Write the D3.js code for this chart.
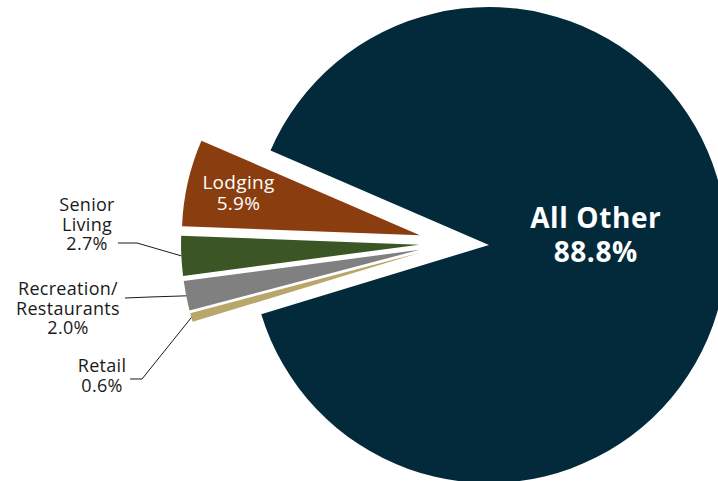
<!DOCTYPE html>
<html>
<head>
<meta charset="utf-8">
<script src="https://cdn.jsdelivr.net/npm/d3@7"></script>
<style>
  body { margin: 0; background: #fff; }
  text { font-family: "Open Sans", sans-serif; }
</style>
</head>
<body>
<svg id="chart" width="718" height="481"></svg>
<script>
// data, in clockwise order starting at the top edge of "All Other"
const categories = ['All Other', 'Retail', 'Recreation/Restaurants', 'Senior Living', 'Lodging'];
const values = [88.8, 0.6, 2.0, 2.7, 5.9];
const labelLines = [
  ['All Other', '88.8%'],
  ['Retail', '0.6%'],
  ['Recreation/', 'Restaurants', '2.0%'],
  ['Senior', 'Living', '2.7%'],
  ['Lodging', '5.9%']
];
const colors = ['#022a3a', '#b9a66b', '#808080', '#3b5624', '#8a3d0e'];

var w = 718, h = 481;
var cx = 454, cy = 243;
var radius = 238;
var explode = 35;
var startAngle = 293.4 * Math.PI / 180;

var svg = d3.select('#chart');

var pie = d3.pie()
  .sort(null)
  .value(function(d) { return d; })
  .startAngle(startAngle)
  .endAngle(startAngle + 2 * Math.PI);

var arc = d3.arc().innerRadius(0).outerRadius(radius);

var arcs = pie(values);

function offset(d, dist) {
  var mid = (d.startAngle + d.endAngle) / 2;
  return [Math.sin(mid) * dist, -Math.cos(mid) * dist];
}

var chart = svg.append('g').attr('transform', 'translate(' + cx + ',' + cy + ')');

var slices = chart.selectAll('g.slice')
  .data(arcs)
  .enter()
  .append('g')
  .attr('class', 'slice')
  .attr('transform', function(d) {
    var o = offset(d, explode);
    return 'translate(' + o[0] + ',' + o[1] + ')';
  });

slices.append('path')
  .attr('d', arc)
  .attr('fill', function(d, i) { return colors[i]; });

// labels inside slices
var inside = {
  0: { r: 107, dy: [-23, 11], size: 28, weight: 700, spacing: 0.6 },
  4: { r: 186, dy: [-5, 16], size: 19, weight: 400, spacing: 0.3 }
};

Object.keys(inside).forEach(function(k) {
  var i = +k, cfg = inside[k], d = arcs[i];
  var p = offset(d, explode + cfg.r);
  var t = chart.append('text')
    .attr('text-anchor', 'middle')
    .attr('fill', '#fff')
    .attr('font-size', cfg.size + 'px')
    .attr('font-weight', cfg.weight)
    .attr('letter-spacing', cfg.spacing + 'px');
  labelLines[i].forEach(function(line, j) {
    t.append('tspan')
      .attr('x', p[0])
      .attr('y', p[1] + cfg.dy[j])
      .text(line);
  });
});

// labels outside with leader lines (page coordinates)
var outside = {
  1: { x: 102, y: 372, line: [[130, 379], [142, 379]] },
  2: { x: 68, y: 295, line: [[125, 298], [150, 297]] },
  3: { x: 87, y: 211, line: [[118, 243], [137, 243]] }
};

Object.keys(outside).forEach(function(k) {
  var i = +k, cfg = outside[k], d = arcs[i];
  var end = offset(d, explode + radius);
  var pts = cfg.line.concat([[cx + end[0], cy + end[1]]]);
  svg.append('path')
    .attr('d', d3.line()(pts))
    .attr('fill', 'none')
    .attr('stroke', '#1a1a1a')
    .attr('stroke-width', 1);
  var t = svg.append('text')
    .attr('text-anchor', 'middle')
    .attr('fill', '#1a1a1a')
    .attr('font-size', '18px')
    .attr('letter-spacing', '0.3px');
  labelLines[i].forEach(function(line, j) {
    t.append('tspan')
      .attr('x', cfg.x)
      .attr('y', cfg.y + j * 19.5)
      .text(line);
  });
});
</script>
</body>
</html>
